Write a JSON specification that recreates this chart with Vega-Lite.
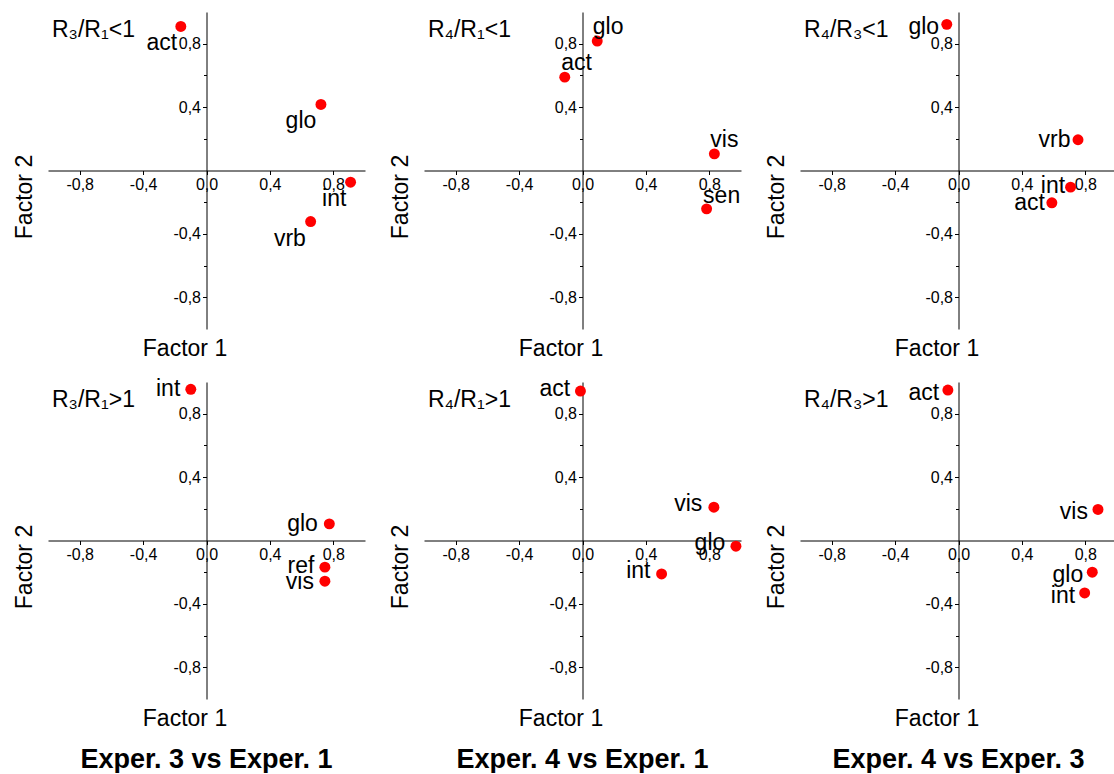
{
  "$schema": "https://vega.github.io/schema/vega-lite/v6.json",
  "background": "white",
  "padding": {"left": 13, "top": 12, "right": 0, "bottom": 0},
  "data": {"values": [
    {"c": "Exper. 3 vs Exper. 1", "h": "lt", "k": "title", "n": "R₃/R₁<1"},
    {"c": "Exper. 3 vs Exper. 1", "h": "lt", "k": "pt", "n": "act", "x": -0.162, "y": 0.909, "lx": -0.282, "ly": 0.758},
    {"c": "Exper. 3 vs Exper. 1", "h": "lt", "k": "pt", "n": "glo", "x": 0.722, "y": 0.417, "lx": 0.596, "ly": 0.269},
    {"c": "Exper. 3 vs Exper. 1", "h": "lt", "k": "pt", "n": "int", "x": 0.909, "y": -0.074, "lx": 0.806, "ly": -0.225},
    {"c": "Exper. 3 vs Exper. 1", "h": "lt", "k": "pt", "n": "vrb", "x": 0.657, "y": -0.322, "lx": 0.526, "ly": -0.474},
    {"c": "Exper. 4 vs Exper. 1", "h": "lt", "k": "title", "n": "R₄/R₁<1"},
    {"c": "Exper. 4 vs Exper. 1", "h": "lt", "k": "pt", "n": "glo", "x": 0.093, "y": 0.817, "lx": 0.162, "ly": 0.863},
    {"c": "Exper. 4 vs Exper. 1", "h": "lt", "k": "pt", "n": "act", "x": -0.112, "y": 0.589, "lx": -0.038, "ly": 0.632},
    {"c": "Exper. 4 vs Exper. 1", "h": "lt", "k": "pt", "n": "vis", "x": 0.832, "y": 0.105, "lx": 0.895, "ly": 0.147},
    {"c": "Exper. 4 vs Exper. 1", "h": "lt", "k": "pt", "n": "sen", "x": 0.783, "y": -0.242, "lx": 0.878, "ly": -0.204},
    {"c": "Exper. 4 vs Exper. 3", "h": "lt", "k": "title", "n": "R₄/R₃<1"},
    {"c": "Exper. 4 vs Exper. 3", "h": "lt", "k": "pt", "n": "glo", "x": -0.074, "y": 0.922, "lx": -0.219, "ly": 0.863},
    {"c": "Exper. 4 vs Exper. 3", "h": "lt", "k": "pt", "n": "vrb", "x": 0.754, "y": 0.194, "lx": 0.606, "ly": 0.147},
    {"c": "Exper. 4 vs Exper. 3", "h": "lt", "k": "pt", "n": "int", "x": 0.707, "y": -0.105, "lx": 0.596, "ly": -0.143},
    {"c": "Exper. 4 vs Exper. 3", "h": "lt", "k": "pt", "n": "act", "x": 0.589, "y": -0.204, "lx": 0.448, "ly": -0.248},
    {"c": "Exper. 3 vs Exper. 1", "h": "gt", "k": "title", "n": "R₃/R₁>1"},
    {"c": "Exper. 3 vs Exper. 1", "h": "gt", "k": "pt", "n": "int", "x": -0.099, "y": 0.954, "lx": -0.242, "ly": 0.912},
    {"c": "Exper. 3 vs Exper. 1", "h": "gt", "k": "pt", "n": "glo", "x": 0.775, "y": 0.105, "lx": 0.606, "ly": 0.059},
    {"c": "Exper. 3 vs Exper. 1", "h": "gt", "k": "pt", "n": "ref", "x": 0.747, "y": -0.168, "lx": 0.596, "ly": -0.208},
    {"c": "Exper. 3 vs Exper. 1", "h": "gt", "k": "pt", "n": "vis", "x": 0.747, "y": -0.257, "lx": 0.589, "ly": -0.303},
    {"c": "Exper. 4 vs Exper. 1", "h": "gt", "k": "title", "n": "R₄/R₁>1"},
    {"c": "Exper. 4 vs Exper. 1", "h": "gt", "k": "pt", "n": "act", "x": -0.013, "y": 0.943, "lx": -0.175, "ly": 0.912},
    {"c": "Exper. 4 vs Exper. 1", "h": "gt", "k": "pt", "n": "vis", "x": 0.829, "y": 0.21, "lx": 0.667, "ly": 0.185},
    {"c": "Exper. 4 vs Exper. 1", "h": "gt", "k": "pt", "n": "glo", "x": 0.968, "y": -0.036, "lx": 0.804, "ly": -0.057},
    {"c": "Exper. 4 vs Exper. 1", "h": "gt", "k": "pt", "n": "int", "x": 0.499, "y": -0.211, "lx": 0.352, "ly": -0.236},
    {"c": "Exper. 4 vs Exper. 3", "h": "gt", "k": "title", "n": "R₄/R₃>1"},
    {"c": "Exper. 4 vs Exper. 3", "h": "gt", "k": "pt", "n": "act", "x": -0.067, "y": 0.949, "lx": -0.219, "ly": 0.884},
    {"c": "Exper. 4 vs Exper. 3", "h": "gt", "k": "pt", "n": "vis", "x": 0.88, "y": 0.196, "lx": 0.728, "ly": 0.137},
    {"c": "Exper. 4 vs Exper. 3", "h": "gt", "k": "pt", "n": "glo", "x": 0.844, "y": -0.2, "lx": 0.69, "ly": -0.261},
    {"c": "Exper. 4 vs Exper. 3", "h": "gt", "k": "pt", "n": "int", "x": 0.796, "y": -0.331, "lx": 0.659, "ly": -0.394}
  ]},
  "facet": {
    "row": {"field": "h", "type": "nominal", "sort": ["lt", "gt"], "header": null},
    "column": {"field": "c", "type": "nominal", "sort": "ascending",
      "header": {"title": null, "labelOrient": "bottom", "labelFont": "Liberation Sans", "labelFontSize": 27, "labelFontWeight": "bold", "labelColor": "black", "labelPadding": 48}}
  },
  "spacing": {"row": 53, "column": 59},
  "bounds": "flush",
  "resolve": {"axis": {"x": "independent", "y": "independent"}},
  "spec": {
    "width": 317,
    "height": 317,
    "layer": [
      {
        "transform": [{"filter": "datum.k === 'pt'"}],
        "mark": {"type": "point", "shape": "circle", "filled": true, "color": "#ff0000", "opacity": 1, "size": 120},
        "encoding": {
          "x": {"field": "x", "type": "quantitative", "scale": {"domain": [-1, 1], "nice": false, "zero": false},
            "axis": {"orient": "bottom", "offset": -158.5, "values": [-0.8, -0.6, -0.4, -0.2, 0, 0.2, 0.4, 0.6, 0.8],
              "labelExpr": "round(datum.value*10) % 4 === 0 ? replace(replace(format(datum.value, '.1f'), '.', ','), '−', '-') : ''",
              "tickSize": {"condition": {"test": "round(datum.value*10) % 4 === 0", "value": 4}, "value": 3},
              "title": "Factor 1", "titleX": 136.5, "titleY": 178, "titleBaseline": "middle", "titleAlign": "center"}},
          "y": {"field": "y", "type": "quantitative", "scale": {"domain": [-1, 1], "nice": false, "zero": false},
            "axis": {"orient": "left", "offset": -158.5, "values": [-0.8, -0.6, -0.4, -0.2, 0.2, 0.4, 0.6, 0.8],
              "labelExpr": "round(datum.value*10) % 4 === 0 ? replace(replace(format(datum.value, '.1f'), '.', ','), '−', '-') : ''",
              "tickSize": {"condition": {"test": "round(datum.value*10) % 4 === 0", "value": 4}, "value": 3},
              "title": "Factor 2", "titleX": -182, "titleY": 184.5, "titleBaseline": "middle", "titleAlign": "center", "titleAngle": -90}}
        }
      },
      {
        "transform": [{"filter": "datum.k === 'pt'"}],
        "mark": {"type": "text", "font": "Liberation Sans", "fontSize": 23, "align": "center", "baseline": "alphabetic", "color": "black"},
        "encoding": {
          "x": {"field": "lx", "type": "quantitative"},
          "y": {"field": "ly", "type": "quantitative"},
          "text": {"field": "n"}
        }
      },
      {
        "transform": [{"filter": "datum.k === 'title'"}],
        "mark": {"type": "text", "font": "Liberation Sans", "fontSize": 23, "align": "left", "baseline": "alphabetic", "color": "black"},
        "encoding": {
          "x": {"datum": -0.975, "type": "quantitative"},
          "y": {"datum": 0.845, "type": "quantitative"},
          "text": {"field": "n"}
        }
      }
    ]
  },
  "config": {
    "view": {"stroke": null},
    "axis": {
      "grid": false, "domainColor": "black", "domainWidth": 1, "tickColor": "black", "tickWidth": 1,
      "labelFont": "Liberation Sans", "labelFontSize": 16, "labelColor": "black", "labelPadding": 2,
      "labelFlush": false, "labelOverlap": false, "labelBound": false,
      "titleFont": "Liberation Sans", "titleFontSize": 23, "titleFontWeight": "normal", "titleColor": "black"
    }
  }
}
